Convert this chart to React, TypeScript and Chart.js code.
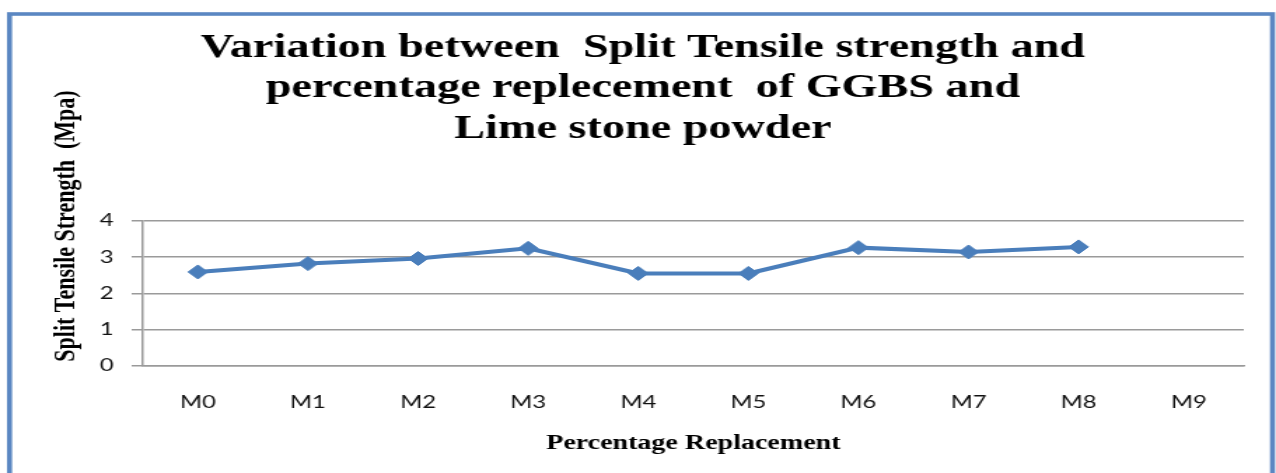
import React, { useEffect, useRef } from "react";
import { Chart, registerables } from "chart.js";

Chart.register(...registerables);

const categories = ["M0", "M1", "M2", "M3", "M4", "M5", "M6", "M7", "M8", "M9"];
const strengthValues: (number | null)[] = [2.59, 2.82, 2.96, 3.24, 2.55, 2.55, 3.26, 3.14, 3.28, null];
const yTickValues = [0, 1, 2, 3, 4];
const titleLines = [
  "Variation between  Split Tensile strength and",
  "percentage replecement  of GGBS and",
  "Lime stone powder",
];
const xAxisTitle = "Percentage Replacement";
const yAxisTitle = "Split Tensile Strength  (Mpa)";

// The reference picture is horizontally stretched; draw on a narrower canvas and stretch it.
const OUT_W = 1276;
const OUT_H = 473;
const STRETCH = 1.4;
const CANVAS_W = Math.round(OUT_W / STRETCH);

const BLUE = "#4A7EBB";
const FRAME = "#5B87C2";
const GRID = "#9a9a9a";

const framePlugin = {
  id: "frameAndTitles",
  beforeDraw(chart: any) {
    const ctx = chart.ctx;
    ctx.save();
    ctx.fillStyle = "#ffffff";
    ctx.fillRect(0, 0, chart.width, chart.height);
    ctx.strokeStyle = FRAME;
    ctx.lineWidth = 3.6;
    ctx.strokeRect(6.8, 14, 908.5 - 6.8, chart.height + 20);
    ctx.restore();
  },
  afterDraw(chart: any) {
    const ctx = chart.ctx;
    const area = chart.chartArea;
    ctx.save();
    ctx.fillStyle = "#000";
    // x axis title
    ctx.font = "bold 20px 'Liberation Serif'";
    ctx.textAlign = "center";
    ctx.textBaseline = "alphabetic";
    ctx.fillText(xAxisTitle, (area.left + area.right) / 2, area.bottom + 83);
    // y axis title
    ctx.translate(52.5, 226);
    ctx.rotate(-Math.PI / 2);
    ctx.font = "bold 22px 'Liberation Serif'";
    ctx.textAlign = "center";
    ctx.textBaseline = "alphabetic";
    ctx.fillText(yAxisTitle, 0, 0);
    ctx.restore();
  },
};

export default function App() {
  const ref = useRef<HTMLCanvasElement | null>(null);

  useEffect(() => {
    if (!ref.current) return;
    const chart = new Chart(ref.current, {
      type: "line",
      data: {
        labels: categories,
        datasets: [
          {
            data: strengthValues,
            borderColor: BLUE,
            backgroundColor: BLUE,
            borderWidth: 4,
            pointStyle: "rectRot",
            pointRadius: 7,
            pointBorderWidth: 1,
            pointBackgroundColor: BLUE,
            pointBorderColor: BLUE,
            tension: 0,
          },
        ],
      },
      options: {
        responsive: false,
        animation: false,
        devicePixelRatio: 1,
        layout: { padding: { left: 30, right: 23, top: 0, bottom: 47 } },
        plugins: {
          legend: { display: false },
          tooltip: { enabled: false },
          title: {
            display: true,
            text: titleLines,
            color: "#000",
            font: { family: "'Liberation Serif'", size: 33, weight: "bold", lineHeight: 1.23 },
            padding: { top: 28, bottom: 71 },
          },
        },
        scales: {
          x: {
            offset: true,
            grid: { display: false, drawTicks: false },
            border: { display: true, color: GRID, width: 1.5 },
            ticks: {
              color: "#111",
              font: { family: "Lato", size: 17 },
              padding: 26,
              maxRotation: 0,
            },
            afterFit: (s: any) => {
              s.height = 60;
            },
          },
          y: {
            min: 0,
            max: 4,
            afterBuildTicks: (s: any) => {
              s.ticks = yTickValues.map((v) => ({ value: v }));
            },
            grid: { color: GRID, lineWidth: 1.5, tickLength: 8, drawTicks: true },
            border: { display: true, color: GRID, width: 1.5 },
            ticks: {
              color: "#111",
              font: { family: "Lato", size: 17 },
              padding: 13,
            },
            afterFit: (s: any) => {
              s.width = 72;
            },
          },
        },
      },
      plugins: [framePlugin],
    });
    return () => chart.destroy();
  }, []);

  return (
    <div style={{ position: "absolute", left: 0, top: 0, width: OUT_W, height: OUT_H, background: "#fff" }}>
      <canvas
        ref={ref}
        width={CANVAS_W}
        height={OUT_H}
        style={{ width: OUT_W + "px", height: OUT_H + "px", display: "block" }}
      />
    </div>
  );
}
